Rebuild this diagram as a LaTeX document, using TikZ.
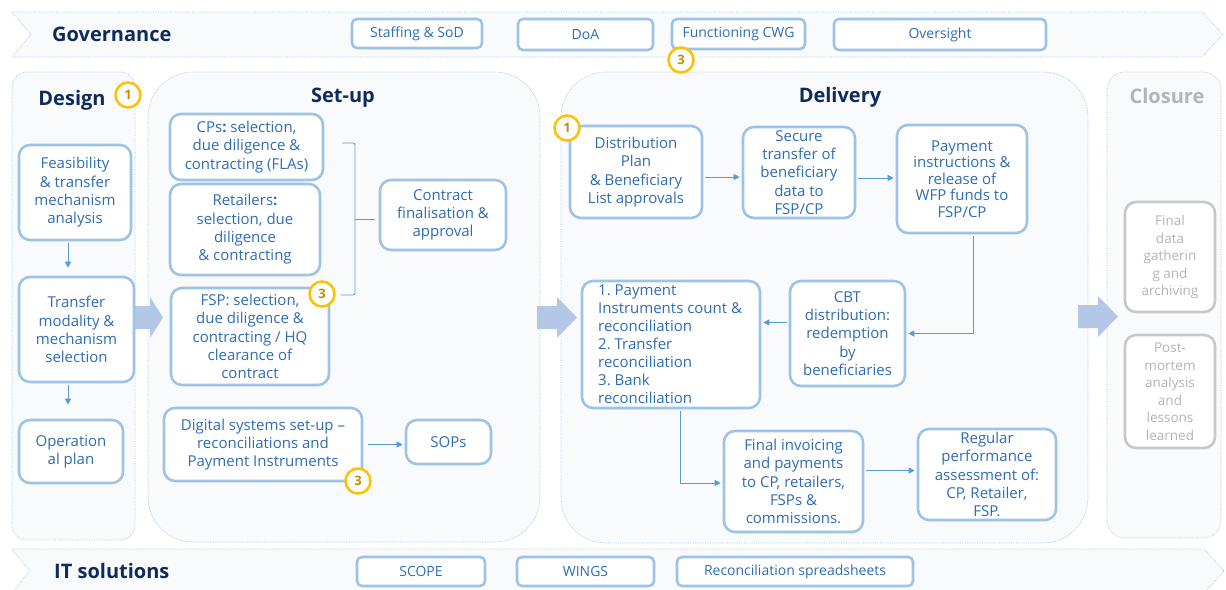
\documentclass[tikz,border=0pt]{standalone}
\usepackage{fontspec}
\setmainfont{Open Sans}
\frenchspacing
\usetikzlibrary{arrows.meta}
\definecolor{boxline}{HTML}{9DC3E6}
\definecolor{txtblue}{HTML}{2E6DB4}
\definecolor{navy}{HTML}{0F2B5B}
\definecolor{conncol}{HTML}{5B9BD5}
\definecolor{bigarrow}{HTML}{B4C7E7}
\definecolor{panelfill}{HTML}{F9FAFC}
\definecolor{panelline}{HTML}{A9C8EA}
\definecolor{greypanel}{HTML}{C4C4C4}
\definecolor{gold}{HTML}{FFC000}
\definecolor{goldtxt}{HTML}{BF9000}
\definecolor{greyline}{HTML}{C8C8C8}
\definecolor{greytxt}{HTML}{B4B4B4}
\begin{document}
\begin{tikzpicture}[x=1pt,y=-1pt,
  box/.style={draw=boxline, line width=2.6pt, rounded corners=11pt, fill=white, align=center,
    text=txtblue, inner sep=0pt, font=\fontsize{15}{18.3}\selectfont},
  gbox/.style={box, rounded corners=5pt, font=\fontsize{14}{17}\selectfont},
  cbox/.style={box, draw=greyline, text=greytxt, font=\fontsize{13.5}{17.5}\selectfont},
  badge/.style={circle, draw=gold, line width=2.5pt, fill=white, minimum size=25pt, inner sep=0pt,
    text=goldtxt, font=\fontsize{13}{13}\selectfont\bfseries},
  conn/.style={draw=conncol, line width=0.9pt, -{Triangle[length=6pt,width=6pt]}},
  panel/.style={draw=panelline, line width=0.7pt, densely dotted, fill=panelfill},
  title/.style={text=navy, font=\fontsize{20}{24}\selectfont\bfseries, inner sep=0pt},
  blockarrow/.style={fill=bigarrow, draw=none}
]
\useasboundingbox (0,0) rectangle (1226,589);
\fill[white] (0,0) rectangle (1226,589);

% chevron bands
\path[panel] (12,12) -- (1202,12) -- (1223,34.5) -- (1202,57) -- (12,57) -- (31,34.5) -- cycle;
\path[panel] (12,549) -- (1204,549) -- (1224,571) -- (1204,593) -- (12,593) -- (30,571) -- cycle;
\node[title, anchor=west] (gov) at (52,34) {Governance};
\node[title, anchor=west] (its) at (54,571) {IT solutions};

% phase panels
\path[panel, rounded corners=15pt] (12,72) rectangle (135,540);
\path[panel, rounded corners=45pt] (148,72) rectangle (540,542);
\path[panel, rounded corners=45pt] (561,72) rectangle (1088,543);
\path[panel, draw=greypanel, rounded corners=18pt] (1107,72) rectangle (1221,538);

\node[title] (tdes) at (72,100.5) {Design};
\node[title] (tset) at (343,97.5) {Set-up};
\node[title] (tdel) at (840,97.5) {Delivery};
\node[title, text=greytxt] (tclo) at (1167,96) {Closure};

% block arrows between phases
\path[blockarrow] (135,306) -- (150,306) -- (150,297) -- (163,317.5) -- (150,338) -- (150,329) -- (135,329) -- cycle;
\path[blockarrow] (537,306) -- (557,306) -- (557,297) -- (577,317.5) -- (557,338) -- (557,329) -- (537,329) -- cycle;
\path[blockarrow] (1078,305) -- (1098,305) -- (1098,296) -- (1118,316.5) -- (1098,337) -- (1098,328) -- (1078,328) -- cycle;

% governance and IT items
\node[gbox, minimum width=130pt, minimum height=29pt] (staff) at (417,33.5) {Staffing \& SoD};
\node[gbox, minimum width=135pt, minimum height=31pt] (doa) at (585.5,34.5) {DoA};
\node[gbox, minimum width=133pt, minimum height=30pt] (cwg) at (738.5,34) {Functioning CWG};
\node[gbox, minimum width=212pt, minimum height=31pt] (over) at (940,34.5) {Oversight};
\node[gbox, minimum width=128pt, minimum height=29pt] (scope) at (421,571.5) {SCOPE};
\node[gbox, minimum width=137pt, minimum height=29pt] (wings) at (585.5,571.5) {WINGS};
\node[gbox, minimum width=236pt, minimum height=29pt] (recs) at (795,571.5) {Reconciliation spreadsheets};

% design
\node[box, minimum width=112pt, minimum height=95pt] (feas) at (75,192.5) {Feasibility\\\& transfer\\mechanism\\analysis};
\node[box, minimum width=115pt, minimum height=105pt] (trans) at (76.5,329.5) {Transfer\\modality \&\\mechanism\\selection};
\node[box, minimum width=104pt, minimum height=63pt] (oper) at (71,451.5) {Operation\\al plan};

% set-up
\node[box, minimum width=153pt, minimum height=66pt] (cps) at (246.5,147) {CPs\textbf{:} selection,\\due diligence \&\\contracting (FLAs)};
\node[box, minimum width=150pt, minimum height=91pt] (ret) at (245,229.5) {Retailers\textbf{:}\\selection, due\\diligence\\\& contracting};
\node[box, minimum width=158pt, minimum height=97pt] (fsp) at (250,336.5) {FSP: selection,\\due diligence \&\\contracting / HQ\\clearance of\\contract};
\node[box, minimum width=126pt, minimum height=70pt] (contr) at (443,215) {Contract\\finalisation \&\\approval};
\node[box, minimum width=198pt, minimum height=73pt] (dig) at (263,444.5) {Digital systems set-up --\\reconciliations and\\Payment Instruments};
\node[box, minimum width=85pt, minimum height=44pt] (sops) at (448.5,442) {SOPs};

% delivery
\node[box, minimum width=132pt, minimum height=92pt] (dist) at (636,172) {Distribution\\Plan\\\& Beneficiary\\List approvals};
\node[box, minimum width=112pt, minimum height=91pt] (sec) at (799,172.5) {Secure\\transfer of\\beneficiary\\data to\\FSP/CP};
\node[box, minimum width=130pt, minimum height=108pt, font=\fontsize{15}{16.5}\selectfont] (pay) at (962,179) {Payment\\instructions \&\\release of\\WFP funds to\\FSP/CP};
\node[box, minimum width=115pt, minimum height=105pt] (cbt) at (847.5,333.5) {CBT\\distribution:\\redemption\\by\\beneficiaries};
\node[box, minimum width=178pt, minimum height=127pt] (rec) at (671,344.5) {};
\node[anchor=west, align=left, inner sep=0pt, text=txtblue, font=\fontsize{15}{18}\selectfont] (rectxt) at (598,344.5)
  {1. Payment\\Instruments count \&\\reconciliation\\2. Transfer\\reconciliation\\3. Bank\\reconciliation};
\node[box, minimum width=139pt, minimum height=101pt] (fin) at (793.5,481.5) {Final invoicing\\and payments\\to CP, retailers,\\FSPs \&\\commissions.};
\node[box, minimum width=138pt, minimum height=91pt] (reg) at (987,474.5) {Regular\\performance\\assessment of:\\CP, Retailer,\\FSP.};

% closure
\node[cbox, minimum width=90pt, minimum height=110pt] (arch) at (1170,257) {Final\\data\\gatherin\\g and\\archiving};
\node[cbox, minimum width=90pt, minimum height=113pt] (post) at (1170,391.5) {Post-\\mortem\\analysis\\and\\lessons\\learned};

% connectors
\draw[conn, shorten >=8pt, shorten <=2pt] ([xshift=-7pt]feas.south) -- ([xshift=-8.5pt]trans.north);
\draw[conn, shorten >=14pt, shorten <=2pt] ([xshift=-8.5pt]trans.south) -- ([xshift=-3pt]oper.north);
\draw[conn, shorten <=5pt, shorten >=2pt] (dig.east) -- (dig.east -| sops.west);
\draw[conn, shorten <=2pt, shorten >=2pt] ([yshift=-5pt]dist.east) -- ([yshift=-5pt]dist.east -| sec.west);
\draw[conn, shorten <=2pt, shorten >=2pt] ([yshift=-5.5pt]sec.east) -- ([yshift=-5.5pt]sec.east -| pay.west);
\draw[conn, shorten <=2pt, shorten >=2pt] ([xshift=11pt]pay.south) |- (cbt.east);
\draw[conn, shorten <=2pt, shorten >=2pt] ([yshift=11pt]cbt.west) -- ([yshift=11pt]cbt.west -| rec.east);
\draw[conn, shorten <=2pt, shorten >=2pt] ([xshift=9pt]rec.south) |- ([yshift=-1.5pt]fin.west);
\draw[conn, shorten <=2pt, shorten >=2pt] ([yshift=11pt]fin.east) -- ([yshift=11pt]fin.east -| reg.west);

% bracket grouping the three selection steps
\coordinate (brtop) at (342,143);
\coordinate (brbot) at (341,295);
\coordinate (brmid) at (355,219);
\draw[conncol, line width=0.9pt, rounded corners=2pt] (brtop) -- (brtop -| brmid) -- (brbot -| brmid) -- (brbot);
\draw[conncol, line width=0.9pt, shorten >=4pt] (brmid) -- (contr.west |- brmid);

% numbered badges
\node[badge] (b1des) at (128,95) {1};
\node[badge] (b3gov) at (681,60) {3};
\node[badge] (b3fsp) at (322,294) {3};
\node[badge] (b3dig) at (358,481) {3};
\node[badge] (b1del) at (567,128) {1};
\end{tikzpicture}
\end{document}
